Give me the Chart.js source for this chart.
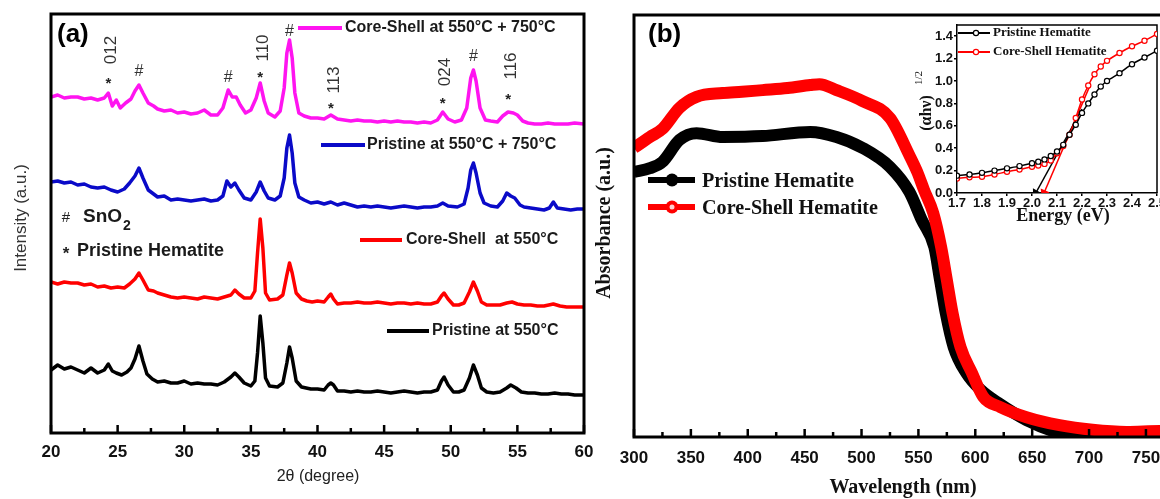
<!DOCTYPE html>
<html>
<head>
<meta charset="utf-8">
<script src="https://cdn.jsdelivr.net/npm/chart.js@4"></script>
<style>
html, body { margin: 0; padding: 0; background: #fff; overflow: hidden; width: 1160px; height: 499px; position: relative; }
canvas { position: absolute; }
</style>
</head>
<body>
<canvas id="xrd" style="left:0px;top:0px" width="600" height="499"></canvas>
<canvas id="abs" style="left:590px;top:0px" width="630" height="499"></canvas>
<canvas id="tauc" style="left:890px;top:0px" width="280" height="240"></canvas>
<script>
const SANS = 'Liberation Sans, Arial, sans-serif';
const SERIF = 'Liberation Serif, Times New Roman, serif';

// ---- panel (a): XRD, [2theta, intensity] ----
const pristine550 = [[20,33],[20.5,38],[21,34],[21.5,36],[22,33],[22.5,30],[23,35],[23.5,30],[24,33],[24.3,39],[24.6,32],[24.9,30],[25.3,28],[25.7,31],[26,35],[26.3,44],[26.6,57],[26.9,42],[27.2,29],[27.6,24],[28,21],[28.5,22],[29,20],[29.5,20],[30,22],[30.5,19],[31,20],[31.5,19],[32,19],[32.5,18],[33,21],[33.5,26],[33.8,30],[34.1,26],[34.5,20],[35,17],[35.3,22],[35.5,50],[35.7,87],[35.9,60],[36.1,25],[36.4,17],[37,16],[37.4,20],[37.7,40],[37.9,56],[38.1,45],[38.4,22],[38.8,16],[39.5,14],[40,14],[40.5,13],[40.8,18],[41,20],[41.2,18],[41.5,12],[42,12],[42.5,11],[43,12],[43.5,11],[44,11],[44.5,12],[45,11],[45.5,10],[46,11],[46.5,12],[47,11],[47.5,10],[48,11],[48.5,11],[49,13],[49.3,22],[49.5,26],[49.8,18],[50.2,11],[50.6,11],[51,13],[51.4,25],[51.7,38],[52,28],[52.3,15],[52.7,11],[53.2,10],[53.7,11],[54.2,15],[54.5,18],[54.9,15],[55.3,11],[55.8,10],[56.3,10],[56.8,9],[57.3,9],[57.8,10],[58.3,9],[58.8,9],[59.3,8],[60,8]];
const coreShell550 = [[20,31],[20.5,29],[21,31],[21.5,30],[22,30],[22.5,28],[23,29],[23.5,26],[24,27],[24.5,25],[25,26],[25.5,25],[25.9,29],[26.3,34],[26.6,40],[26.9,33],[27.3,23],[27.7,22],[28,20],[28.5,18],[29,16],[29.5,15],[30,16],[30.5,15],[31,14],[31.5,16],[32,15],[32.5,14],[33,16],[33.5,18],[33.8,23],[34.1,19],[34.5,15],[35,15],[35.3,22],[35.5,60],[35.7,94],[35.9,65],[36.1,20],[36.4,13],[37,14],[37.4,18],[37.7,38],[37.9,50],[38.1,40],[38.4,20],[38.8,14],[39.2,12],[39.6,11],[40,12],[40.5,11],[40.8,16],[41,19],[41.2,14],[41.5,9],[42,10],[42.5,10],[43,11],[43.5,10],[44,10],[44.5,11],[45,10],[45.5,9],[46,10],[46.5,10],[47,9],[47.5,10],[48,9],[48.5,9],[49,11],[49.3,17],[49.5,20],[49.8,14],[50.2,8],[50.6,8],[51,10],[51.4,21],[51.7,31],[52,22],[52.3,11],[52.7,8],[53.2,8],[53.7,8],[54.2,10],[54.6,11],[55,9],[55.5,8],[56,8],[56.5,7],[57,7],[57.7,9],[58.2,7],[58.7,6],[59.2,6],[60,6]];
const pristine750 = [[20,36],[20.5,37],[21,35],[21.5,36],[22,33],[22.5,34],[23,31],[23.5,30],[24,31],[24.5,28],[25,26],[25.5,29],[25.9,35],[26.3,42],[26.6,50],[26.9,40],[27.3,28],[27.7,24],[28,21],[28.5,22],[29,18],[29.5,19],[30,18],[30.5,17],[31,18],[31.5,19],[32,17],[32.5,18],[32.9,22],[33.2,37],[33.5,31],[33.8,35],[34.1,28],[34.5,20],[35,18],[35.4,26],[35.7,36],[36,27],[36.3,20],[36.8,18],[37.2,22],[37.5,40],[37.7,70],[37.9,83],[38.1,65],[38.3,35],[38.6,21],[39,18],[39.5,15],[40,16],[40.5,14],[41,16],[41.5,13],[42,15],[42.5,13],[43,11],[43.5,12],[44,11],[44.5,12],[45,11],[45.5,10],[46,11],[46.5,12],[47,11],[47.5,10],[48,11],[48.5,11],[49,12],[49.4,15],[49.8,12],[50.5,11],[51,14],[51.3,30],[51.5,48],[51.7,55],[51.9,45],[52.2,25],[52.5,15],[53,12],[53.5,11],[53.9,17],[54.2,25],[54.5,22],[54.8,20],[55.2,13],[55.5,11],[56,10],[56.5,9],[57,8],[57.4,10],[57.7,16],[58,10],[58.5,9],[59,8],[59.5,9],[60,9]];
const coreShell750 = [[20,36],[20.5,38],[21,35],[21.5,36],[22,36],[22.5,34],[23,35],[23.5,33],[24,35],[24.3,40],[24.6,27],[24.9,33],[25.2,25],[25.6,30],[26,34],[26.3,42],[26.6,48],[26.9,40],[27.3,30],[27.7,27],[28,24],[28.5,22],[29,23],[29.5,20],[30,21],[30.5,19],[31,20],[31.5,23],[32,18],[32.5,18],[32.9,25],[33.3,43],[33.6,36],[33.9,36],[34.2,28],[34.6,20],[35,23],[35.4,35],[35.7,50],[36,32],[36.3,20],[36.8,16],[37.2,22],[37.5,45],[37.7,80],[37.9,93],[38.1,75],[38.3,40],[38.6,20],[39,17],[39.5,15],[40,15],[40.5,14],[41,18],[41.5,14],[42,13],[42.5,12],[43,13],[43.5,12],[44,12],[44.5,11],[45,12],[45.5,11],[46,12],[46.5,11],[47,11],[47.5,10],[48,11],[48.5,10],[49,13],[49.4,21],[49.8,14],[50.3,11],[50.8,13],[51.2,25],[51.5,55],[51.7,63],[51.9,52],[52.2,25],[52.6,13],[53,12],[53.5,11],[53.9,17],[54.3,21],[54.7,20],[55,18],[55.4,12],[55.8,10],[56.3,9],[56.8,9],[57.3,10],[57.8,9],[58.3,9],[58.8,9],[59.3,10],[60,9]];

const xrdLabels = ['Pristine at 550\u00B0C', 'Core-Shell  at 550\u00B0C', 'Pristine at 550\u00B0C + 750\u00B0C', 'Core-Shell at 550\u00B0C + 750\u00B0C'];
const xrdColors = ['#000000', '#ff0000', '#0a0ac8', '#ff14f0'];
const xrdOffsets = [30, 120, 215, 300];   // vertical stacking
const xrdData = [pristine550, coreShell550, pristine750, coreShell750];

// peak marks: [2theta, symbol, hkl]
const peakMarks = [[24.3,'*','012'],[26.6,'#',''],[33.3,'#',''],[35.7,'*','110'],[37.9,'#',''],[41.0,'*','113'],[49.4,'*','024'],[51.7,'#',''],[54.3,'*','116']];

// ---- panel (b): absorbance vs wavelength ----
const pristineAbs = [[300,0.628],[314,0.637],[325,0.652],[340,0.704],[355,0.720],[378,0.711],[413,0.713],[455,0.723],[478,0.711],[501,0.685],[525,0.640],[542,0.581],[553,0.514],[564,0.450],[569,0.372],[574,0.294],[581,0.213],[592,0.152],[605,0.111],[620,0.081],[645,0.040],[674,0.009],[703,-0.007],[733,-0.014],[762,-0.017],[800,-0.017]];
const coreShellAbs = [[300,0.685],[314,0.711],[325,0.730],[340,0.780],[355,0.806],[378,0.815],[395,0.818],[413,0.822],[435,0.827],[455,0.834],[463,0.836],[478,0.822],[501,0.796],[525,0.756],[542,0.668],[549,0.628],[555,0.585],[563,0.531],[570,0.450],[575,0.372],[580,0.294],[587,0.213],[597,0.152],[607,0.095],[622,0.071],[645,0.047],[674,0.028],[703,0.017],[733,0.012],[762,0.014],[800,0.014]];

// ---- inset: Tauc plot ----
const pristineTauc = [[1.70,0.155],[1.75,0.165],[1.80,0.18],[1.85,0.20],[1.90,0.22],[1.95,0.24],[2.00,0.265],[2.025,0.28],[2.05,0.30],[2.075,0.33],[2.10,0.37],[2.125,0.43],[2.15,0.52],[2.175,0.61],[2.20,0.715],[2.225,0.80],[2.25,0.88],[2.275,0.95],[2.30,1.00],[2.35,1.07],[2.40,1.15],[2.45,1.21],[2.50,1.27]];
const coreShellTauc = [[1.70,0.13],[1.75,0.14],[1.80,0.145],[1.85,0.165],[1.90,0.19],[1.95,0.21],[2.00,0.235],[2.025,0.245],[2.05,0.26],[2.075,0.29],[2.10,0.355],[2.125,0.42],[2.15,0.52],[2.175,0.67],[2.20,0.835],[2.225,0.96],[2.25,1.06],[2.275,1.13],[2.30,1.18],[2.35,1.25],[2.40,1.31],[2.45,1.36],[2.50,1.42]];
const pristineFit = [[2.015,0],[2.20,0.75]];
const coreShellFit = [[2.048,0],[2.23,0.95]];

const pts = arr => arr.map(p => ({x: p[0], y: p[1]}));

function txt(ctx, s, x, y, font, color, align, rot, maxW) {
  ctx.save();
  ctx.translate(x, y);
  if (rot) ctx.rotate(rot);
  ctx.font = font;
  ctx.fillStyle = color || '#111';
  ctx.textAlign = align || 'left';
  ctx.textBaseline = 'middle';
  if (maxW) ctx.fillText(s, 0, 0, maxW); else ctx.fillText(s, 0, 0);
  ctx.restore();
}
function seg(ctx, x1, y1, x2, y2, color, w) {
  ctx.save();
  ctx.strokeStyle = color; ctx.lineWidth = w;
  ctx.beginPath(); ctx.moveTo(x1, y1); ctx.lineTo(x2, y2); ctx.stroke();
  ctx.restore();
}

// frame box with inward bottom ticks
function framePlugin(major, minor) {
  return {
    id: 'frame',
    afterDatasetsDraw(chart) {
      const {ctx, chartArea: a} = chart;
      const x = chart.scales.x;
      ctx.save();
      ctx.strokeStyle = '#000';
      ctx.lineWidth = 3;
      ctx.strokeRect(a.left, a.top, a.right - a.left, a.bottom - a.top);
      ctx.lineWidth = 2.5;
      for (let v = x.min; v <= x.max + 1e-9; v += minor) {
        const isMajor = Math.abs(v / major - Math.round(v / major)) < 1e-6;
        const px = x.getPixelForValue(v);
        ctx.beginPath();
        ctx.moveTo(px, a.bottom);
        ctx.lineTo(px, a.bottom - (isMajor ? 8 : 5));
        ctx.stroke();
      }
      ctx.restore();
    }
  };
}

const baseOpts = {
  responsive: false,
  animation: false,
  events: [],
  plugins: { legend: { display: false }, tooltip: { enabled: false } }
};

// ================= panel (a) =================
new Chart(document.getElementById('xrd'), {
  type: 'line',
  data: {
    datasets: xrdData.map((d, i) => ({
      label: xrdLabels[i],
      data: d.map(p => ({x: p[0], y: p[1] + xrdOffsets[i]})),
      borderColor: xrdColors[i],
      borderWidth: 3.5,
      borderJoinStyle: 'round',
      pointRadius: 0,
      tension: 0
    }))
  },
  options: {
    ...baseOpts,
    layout: { padding: { left: 0, top: 14, right: 16, bottom: 0 } },
    scales: {
      x: {
        type: 'linear', min: 20, max: 60,
        grid: { display: false }, border: { display: false },
        ticks: { stepSize: 5, padding: 1, color: '#111', font: { family: SANS, size: 17, weight: 'bold' } },
        afterFit(s) { s.height = 66; }
      },
      y: {
        type: 'linear', min: 0, max: 419,
        grid: { display: false }, border: { display: false },
        ticks: { display: false },
        afterFit(s) { s.width = 51; }
      }
    }
  },
  plugins: [framePlugin(5, 2.5), {
    id: 'xrdText',
    afterDraw(chart) {
      const ctx = chart.ctx;
      const x = chart.scales.x;
      txt(ctx, '(a)', 57, 35, 'bold 26px ' + SANS, '#000');
      txt(ctx, 'Intensity (a.u.)', 21, 218, '17px ' + SANS, '#333', 'center', -Math.PI / 2);
      txt(ctx, '2\u03B8 (degree)', 318, 477, '16px ' + SANS, '#222', 'center');
      // legend entries beside each trace
      const leg = [[387, 429, 331, 432, 134], [360, 402, 240, 406, 160], [321, 365, 145, 367, 200], [298, 342, 28, 345, 225]];
      leg.forEach((l, i) => {
        seg(ctx, l[0], l[2], l[1], l[2], xrdColors[i], 4);
        txt(ctx, xrdLabels[i], l[3], l[2], 'bold 16px ' + SANS, '#1a1a1a', 'left', 0, l[4]);
      });
      // phase key
      txt(ctx, '#', 66, 218, '15px ' + SANS, '#222', 'center');
      ctx.font = 'bold 19px ' + SANS;
      const wSnO = ctx.measureText('SnO').width;
      txt(ctx, 'SnO', 83, 217, 'bold 19px ' + SANS, '#1a1a1a');
      txt(ctx, '2', 84 + wSnO, 226, 'bold 14px ' + SANS, '#1a1a1a');
      txt(ctx, '*', 66, 254, 'bold 17px ' + SANS, '#222', 'center');
      txt(ctx, 'Pristine Hematite', 77, 251, 'bold 18px ' + SANS, '#1a1a1a', 'left', 0, 163);
      // peak marks
      const symY = { 24.3: 84, 26.6: 72, 33.3: 78, 35.7: 78, 37.9: 32, 41: 109, 49.4: 104, 51.7: 57, 54.3: 100 };
      const hklY = { 24.3: 50, 35.7: 48, 41: 80, 49.4: 72, 54.3: 66 };
      peakMarks.forEach(m => {
        const px = x.getPixelForValue(m[0]);
        if (m[1] === '*') txt(ctx, '*', px, symY[m[0]], 'bold 15px ' + SANS, '#222', 'center');
        else txt(ctx, '#', px, symY[m[0]], '16px ' + SANS, '#333', 'center');
        if (m[2]) txt(ctx, m[2], px + 3, hklY[m[0]], '17px ' + SANS, '#333', 'center', -Math.PI / 2);
      });
    }
  }]
});

// ================= panel (b) =================
const OXB = 590;
new Chart(document.getElementById('abs'), {
  type: 'line',
  data: {
    datasets: [
      { label: 'Core-Shell Hematite', data: pts(coreShellAbs), borderColor: '#ff0000', borderWidth: 12, pointRadius: 0, cubicInterpolationMode: 'monotone', clip: 0, order: 0 },
      { label: 'Pristine Hematite', data: pts(pristineAbs), borderColor: '#000000', borderWidth: 12, pointRadius: 0, cubicInterpolationMode: 'monotone', clip: 0, order: 1 }
    ]
  },
  options: {
    ...baseOpts,
    layout: { padding: { left: 0, top: 15, right: 17, bottom: 0 } },
    scales: {
      x: {
        type: 'linear', min: 300, max: 800,
        grid: { display: false }, border: { display: false },
        ticks: { stepSize: 50, padding: 3, color: '#111', font: { family: SANS, size: 17, weight: 'bold' } },
        afterFit(s) { s.height = 62; }
      },
      y: {
        type: 'linear', min: 0, max: 1,
        grid: { display: false }, border: { display: false },
        ticks: { display: false },
        afterFit(s) { s.width = 44; }
      }
    }
  },
  plugins: [framePlugin(50, 25), {
    id: 'absText',
    afterDraw(chart) {
      const ctx = chart.ctx;
      txt(ctx, '(b)', 648 - OXB, 35, 'bold 26px ' + SANS, '#000');
      txt(ctx, 'Absorbance (a.u.)', 605 - OXB, 223, 'bold 20px ' + SERIF, '#111', 'center', -Math.PI / 2);
      txt(ctx, 'Wavelength (nm)', 903 - OXB, 488, 'bold 20px ' + SERIF, '#111', 'center');
      // legend
      seg(ctx, 648 - OXB, 180, 695 - OXB, 180, '#000', 6);
      ctx.beginPath(); ctx.arc(672 - OXB, 180, 6.5, 0, Math.PI * 2); ctx.fillStyle = '#000'; ctx.fill();
      txt(ctx, 'Pristine Hematite', 702 - OXB, 182, 'bold 21px ' + SERIF, '#111', 'left', 0, 152);
      seg(ctx, 648 - OXB, 207, 695 - OXB, 207, '#ff0000', 6);
      ctx.beginPath(); ctx.arc(672 - OXB, 207, 6.5, 0, Math.PI * 2); ctx.fillStyle = '#ff0000'; ctx.fill();
      ctx.beginPath(); ctx.arc(672 - OXB, 207, 2.5, 0, Math.PI * 2); ctx.fillStyle = '#ffd0d0'; ctx.fill();
      txt(ctx, 'Core-Shell Hematite', 702 - OXB, 209, 'bold 21px ' + SERIF, '#111', 'left', 0, 176);
    }
  }]
});

// ================= inset =================
const OXI = 890;
new Chart(document.getElementById('tauc'), {
  type: 'line',
  data: {
    datasets: [
      { label: 'Pristine Hematite', data: pts(pristineTauc), borderColor: '#000', borderWidth: 1.5, pointRadius: 2.6, pointBorderWidth: 1.2, pointBorderColor: '#000', pointBackgroundColor: '#fff', tension: 0.3 },
      { label: 'Core-Shell Hematite', data: pts(coreShellTauc), borderColor: '#ff0000', borderWidth: 1.5, pointRadius: 2.6, pointBorderWidth: 1.2, pointBorderColor: '#ff0000', pointBackgroundColor: '#fff', tension: 0.3 },
      { label: 'fit P', data: pts(pristineFit), borderColor: '#000', borderWidth: 1.5, pointStyle: 'triangle', pointRadius: [4, 0], pointRotation: 209, pointBackgroundColor: '#000', pointBorderColor: '#000' },
      { label: 'fit CS', data: pts(coreShellFit), borderColor: '#ff0000', borderWidth: 1.5, pointStyle: 'triangle', pointRadius: [4, 0], pointRotation: 203, pointBackgroundColor: '#ff0000', pointBorderColor: '#ff0000' }
    ]
  },
  options: {
    ...baseOpts,
    layout: { padding: { left: 0, top: 25, right: 13, bottom: 0 } },
    scales: {
      x: {
        type: 'linear', min: 1.7, max: 2.5,
        grid: { display: true, drawOnChartArea: false, drawTicks: true, tickLength: 3, color: '#000', lineWidth: 1.5 },
        border: { display: true, color: '#000', width: 1.5 },
        ticks: { stepSize: 0.1, padding: 0, color: '#111', font: { family: SANS, size: 13, weight: 'bold' }, callback: v => v.toFixed(1) },
        afterFit(s) { s.height = 47; }
      },
      y: {
        type: 'linear', min: 0, max: 1.5,
        grid: { display: true, drawOnChartArea: false, drawTicks: true, tickLength: 3, color: '#000', lineWidth: 1.5 },
        border: { display: true, color: '#000', width: 1.5 },
        ticks: { stepSize: 0.2, includeBounds: false, padding: 1, color: '#111', font: { family: SANS, size: 13, weight: 'bold' }, callback: v => v.toFixed(1) },
        afterFit(s) { s.width = 67; }
      }
    }
  },
  plugins: [{
    id: 'taucText',
    beforeDatasetsDraw(chart) {
      const {ctx, chartArea: a} = chart;
      ctx.save();
      ctx.strokeStyle = '#000'; ctx.lineWidth = 1.5;
      ctx.beginPath();
      ctx.moveTo(a.left, a.top); ctx.lineTo(a.right, a.top); ctx.lineTo(a.right, a.bottom);
      ctx.stroke();
      ctx.restore();
    },
    afterDraw(chart) {
      const ctx = chart.ctx;
      txt(ctx, '(\u03B1h\u03BD)', 927 - OXI, 113, 'bold 16px ' + SERIF, '#111', 'center', -Math.PI / 2);
      txt(ctx, '1/2', 919 - OXI, 78, '11px ' + SERIF, '#111', 'center', -Math.PI / 2);
      txt(ctx, 'Energy (eV)', 1063 - OXI, 216, 'bold 18px ' + SERIF, '#111', 'center');
      // legend
      seg(ctx, 958 - OXI, 33, 990 - OXI, 33, '#000', 2);
      ctx.beginPath(); ctx.arc(976 - OXI, 33, 2.6, 0, Math.PI * 2); ctx.fillStyle = '#fff'; ctx.fill(); ctx.strokeStyle = '#000'; ctx.lineWidth = 1.2; ctx.stroke();
      txt(ctx, 'Pristine Hematite', 993 - OXI, 33, 'bold 13px ' + SERIF, '#111', 'left', 0, 100);
      seg(ctx, 958 - OXI, 52, 990 - OXI, 52, '#ff0000', 2);
      ctx.beginPath(); ctx.arc(976 - OXI, 52, 2.6, 0, Math.PI * 2); ctx.fillStyle = '#fff'; ctx.fill(); ctx.strokeStyle = '#ff0000'; ctx.lineWidth = 1.2; ctx.stroke();
      txt(ctx, 'Core-Shell Hematite', 993 - OXI, 52, 'bold 13px ' + SERIF, '#111', 'left', 0, 117);
    }
  }]
});
</script>
</body>
</html>
